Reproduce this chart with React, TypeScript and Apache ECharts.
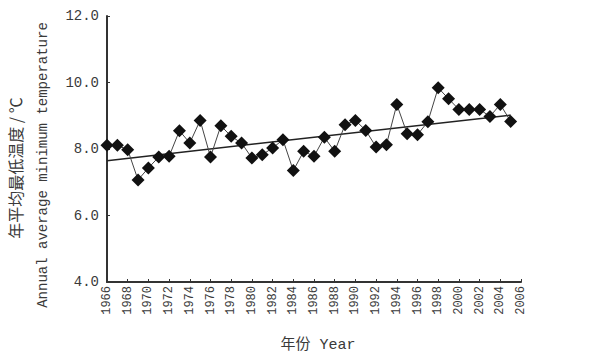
import React, { useEffect, useRef } from "react";
import * as echarts from "echarts";

const years: number[] = [
  1966, 1967, 1968, 1969, 1970, 1971, 1972, 1973, 1974, 1975,
  1976, 1977, 1978, 1979, 1980, 1981, 1982, 1983, 1984, 1985,
  1986, 1987, 1988, 1989, 1990, 1991, 1992, 1993, 1994, 1995,
  1996, 1997, 1998, 1999, 2000, 2001, 2002, 2003, 2004, 2005,
];
const tempValues: number[] = [
  8.11, 8.11, 7.98, 7.07, 7.43, 7.76, 7.78, 8.55, 8.18, 8.86,
  7.76, 8.7, 8.38, 8.18, 7.73, 7.83, 8.03, 8.28, 7.35, 7.93,
  7.78, 8.35, 7.93, 8.73, 8.86, 8.56, 8.06, 8.13, 9.34, 8.46,
  8.43, 8.82, 9.84, 9.51, 9.19, 9.19, 9.19, 8.98, 9.34, 8.83,
];
const trendYears: number[] = [1966, 2005];
const trendValues: number[] = [7.65, 9.02];

const yTitleCn = "年平均最低温度 / ℃";
const yTitleEn = "Annual average minimum temperature";
const xTitle = "年份 Year";

const FONT = "'Liberation Mono', 'Noto Sans CJK SC', monospace";

export default function App() {
  const ref = useRef<HTMLDivElement>(null);
  useEffect(() => {
    if (!ref.current) return;
    const chart = echarts.init(ref.current, null, { renderer: "svg" });
    chart.setOption({
      animation: false,
      backgroundColor: "#ffffff",
      grid: { left: 107, right: 73, top: 16, bottom: 78 },
      xAxis: {
        type: "value",
        min: 1966,
        max: 2006,
        interval: 2,
        splitLine: { show: false },
        axisLine: { show: true, onZero: false, lineStyle: { color: "#333", width: 2 } },
        axisTick: { show: true, inside: true, length: 3, lineStyle: { color: "#333" } },
        axisLabel: {
          rotate: 90,
          fontFamily: FONT,
          fontSize: 12,
          color: "#3a3a3a",
          margin: 4,
          formatter: (v: number) => String(v),
        },
      },
      yAxis: {
        type: "value",
        min: 4,
        max: 12,
        interval: 2,
        splitLine: { show: false },
        axisLine: { show: true, lineStyle: { color: "#333", width: 2 } },
        axisTick: { show: true, inside: true, length: 3, lineStyle: { color: "#333" } },
        axisLabel: {
          fontFamily: FONT,
          fontSize: 14,
          color: "#3a3a3a",
          margin: 8,
          formatter: (v: number) => v.toFixed(1),
        },
      },
      graphic: [
        {
          type: "text",
          x: 15,
          y: 168,
          rotation: Math.PI / 2,
          style: {
            text: yTitleCn,
            font: "16px 'Noto Sans CJK SC'",
            fill: "#3a3a3a",
            textAlign: "center",
            textVerticalAlign: "middle",
          },
        },
        {
          type: "text",
          x: 43,
          y: 165,
          rotation: Math.PI / 2,
          style: {
            text: yTitleEn,
            font: "14px 'Liberation Mono'",
            fill: "#3a3a3a",
            textAlign: "center",
            textVerticalAlign: "middle",
          },
        },
        {
          type: "text",
          x: 318,
          y: 345,
          style: {
            text: xTitle,
            font: "15px 'Liberation Mono', 'Noto Sans CJK SC'",
            fill: "#3a3a3a",
            textAlign: "center",
            textVerticalAlign: "middle",
          },
        },
      ],
      series: [
        {
          type: "line",
          data: years.map((y, i) => [y, tempValues[i]]),
          symbol: "diamond",
          symbolSize: 13,
          itemStyle: { color: "#111" },
          lineStyle: { color: "#444", width: 1 },
          z: 3,
        },
        {
          type: "line",
          data: trendYears.map((y, i) => [y, trendValues[i]]),
          symbol: "none",
          lineStyle: { color: "#222", width: 1.5 },
          z: 2,
        },
      ],
    });
    return () => chart.dispose();
  }, []);
  return (
    <div
      ref={ref}
      style={{ width: 594, height: 360, position: "absolute", left: 0, top: 0 }}
    />
  );
}
